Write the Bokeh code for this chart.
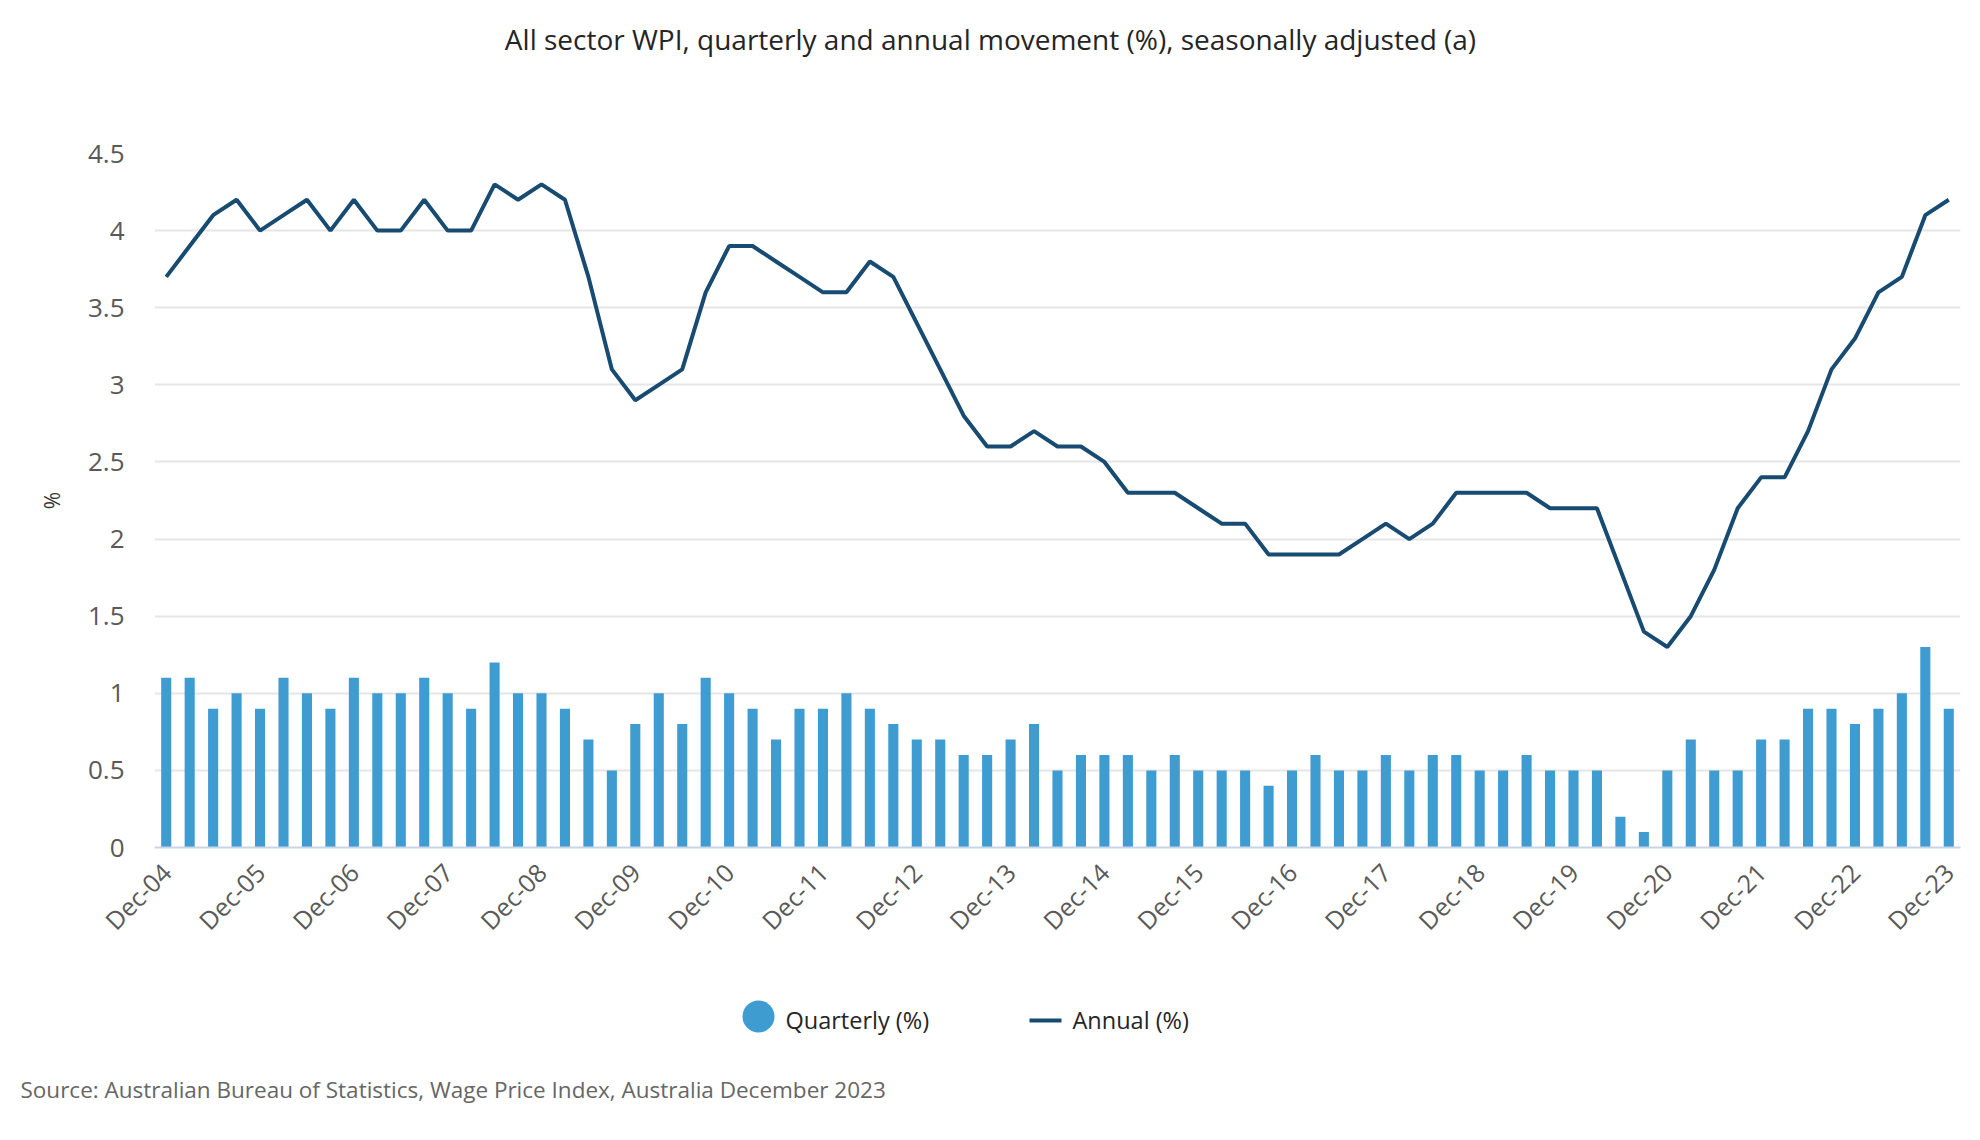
from math import pi
from bokeh.plotting import figure
from bokeh.layouts import column
from bokeh.models import FixedTicker, Range1d, Title
from bokeh.core.properties import value
from bokeh.embed import file_html
from bokeh.resources import INLINE

# ---------------- data ----------------
tick_labels = ["Dec-04", "Dec-05", "Dec-06", "Dec-07", "Dec-08", "Dec-09", "Dec-10",
               "Dec-11", "Dec-12", "Dec-13", "Dec-14", "Dec-15", "Dec-16", "Dec-17",
               "Dec-18", "Dec-19", "Dec-20", "Dec-21", "Dec-22", "Dec-23"]

quarterly = [1.1, 1.1, 0.9, 1.0, 0.9, 1.1, 1.0, 0.9, 1.1, 1.0, 1.0, 1.1, 1.0, 0.9, 1.2, 1.0,
             1.0, 0.9, 0.7, 0.5, 0.8, 1.0, 0.8, 1.1, 1.0, 0.9, 0.7, 0.9, 0.9, 1.0, 0.9, 0.8,
             0.7, 0.7, 0.6, 0.6, 0.7, 0.8, 0.5, 0.6, 0.6, 0.6, 0.5, 0.6, 0.5, 0.5, 0.5, 0.4,
             0.5, 0.6, 0.5, 0.5, 0.6, 0.5, 0.6, 0.6, 0.5, 0.5, 0.6, 0.5, 0.5, 0.5, 0.2, 0.1,
             0.5, 0.7, 0.5, 0.5, 0.7, 0.7, 0.9, 0.9, 0.8, 0.9, 1.0, 1.3, 0.9]

annual = [3.7, 3.9, 4.1, 4.2, 4.0, 4.1, 4.2, 4.0, 4.2, 4.0, 4.0, 4.2, 4.0, 4.0, 4.3, 4.2,
          4.3, 4.2, 3.7, 3.1, 2.9, 3.0, 3.1, 3.6, 3.9, 3.9, 3.8, 3.7, 3.6, 3.6, 3.8, 3.7,
          3.4, 3.1, 2.8, 2.6, 2.6, 2.7, 2.6, 2.6, 2.5, 2.3, 2.3, 2.3, 2.2, 2.1, 2.1, 1.9,
          1.9, 1.9, 1.9, 2.0, 2.1, 2.0, 2.1, 2.3, 2.3, 2.3, 2.3, 2.2, 2.2, 2.2, 1.8, 1.4,
          1.3, 1.5, 1.8, 2.2, 2.4, 2.4, 2.7, 3.1, 3.3, 3.6, 3.7, 4.1, 4.2]

y_ticks = [0, 0.5, 1, 1.5, 2, 2.5, 3, 3.5, 4, 4.5]
y_tick_labels = ["0", "0.5", "1", "1.5", "2", "2.5", "3", "3.5", "4", "4.5"]

series_names = ["Quarterly (%)", "Annual (%)"]
title_text = "All sector WPI, quarterly and annual movement (%), seasonally adjusted (a)"
source_text = "Source: Australian Bureau of Statistics, Wage Price Index, Australia December 2023"

x = list(range(len(quarterly)))
x_ticks = [i * 4 for i in range(len(tick_labels))]

# ---------------- style ----------------
FONT = "Open Sans"
BAR = "#3e9cd1"
LINE = "#174b72"
W = 1972
FRAME_LEFT, FRAME_RIGHT = 154, 1960
HT = 133                      # title strip height
MAIN_TOP, FRAME_H, MAIN_BOTTOM = 20, 694, 130
HB, HB_BORDER = 155, 66       # legend strip height, space for the source note


def strip(height, border_bottom=0):
    fh = height - border_bottom
    f = figure(width=W, height=height, output_backend="svg", toolbar_location=None,
               x_range=Range1d(FRAME_LEFT, FRAME_RIGHT), y_range=Range1d(fh, 0),
               x_axis_type=None, y_axis_type=None,
               min_border_left=FRAME_LEFT, min_border_right=W - FRAME_RIGHT,
               min_border_top=0, min_border_bottom=border_bottom)
    f.outline_line_color = None
    f.background_fill_color = "white"
    f.border_fill_color = "white"
    return f


# ---- title strip ----
top = strip(HT)
top.text(x=[990], y=[38], text=[title_text], text_font=value(FONT),
         text_font_size=value("28px"), text_color="#252525",
         text_align="center", text_baseline="alphabetic")

# ---- main chart ----
p = figure(width=W, height=MAIN_TOP + FRAME_H + MAIN_BOTTOM, output_backend="svg",
           toolbar_location=None,
           x_range=Range1d(-0.5, len(x) - 0.5), y_range=Range1d(0, 4.5),
           min_border_left=FRAME_LEFT, min_border_right=W - FRAME_RIGHT,
           min_border_top=MAIN_TOP, min_border_bottom=MAIN_BOTTOM)
p.outline_line_color = None
p.background_fill_color = "white"
p.border_fill_color = "white"

p.xaxis.ticker = FixedTicker(ticks=x_ticks)
p.xaxis.major_label_overrides = {t: lab for t, lab in zip(x_ticks, tick_labels)}
p.xaxis.major_label_orientation = pi / 4
p.xaxis.major_tick_line_color = None
p.xaxis.minor_tick_line_color = None
p.xaxis.axis_line_color = "#c9d4e8"
p.xaxis.axis_line_width = 2
p.xaxis.major_label_standoff = 14
p.xaxis.major_label_text_font = FONT
p.xaxis.major_label_text_font_size = "25px"
p.xaxis.major_label_text_color = "#595959"

p.yaxis.ticker = FixedTicker(ticks=y_ticks)
p.yaxis.major_label_overrides = {t: lab for t, lab in zip(y_ticks, y_tick_labels)}
p.yaxis.major_tick_line_color = None
p.yaxis.minor_tick_line_color = None
p.yaxis.axis_line_color = None
p.yaxis.major_label_standoff = 24
p.yaxis.major_label_text_font = FONT
p.yaxis.major_label_text_font_size = "26px"
p.yaxis.major_label_text_color = "#595959"
p.yaxis.axis_label = "%"
p.yaxis.axis_label_text_font = FONT
p.yaxis.axis_label_text_font_size = "21px"
p.yaxis.axis_label_text_font_style = "normal"
p.yaxis.axis_label_text_color = "#333333"
p.yaxis.axis_label_standoff = 19

p.xgrid.visible = False
p.ygrid.grid_line_color = "#e6e6e6"
p.ygrid.grid_line_width = 2

p.vbar(x=x, top=quarterly, width=0.43, fill_color=BAR, line_color=None)
p.line(x, annual, line_color=LINE, line_width=4)

# ---- legend strip with source note ----
bot = strip(HB, HB_BORDER)
bot.scatter(x=[758], y=[39], marker="circle", size=32, fill_color=BAR, line_color=None)
bot.segment(x0=[1029], y0=[43], x1=[1061], y1=[43], line_color=LINE, line_width=4)
bot.text(x=[785, 1072], y=[42, 42], text=series_names, text_font=value(FONT),
         text_font_size=value("23.5px"), text_color="#252525",
         text_align="left", text_baseline="alphabetic")
bot.add_layout(Title(text=source_text, align="left", offset=-(FRAME_LEFT - 20), standoff=10,
                     text_font=FONT, text_font_size="22.5px", text_font_style="normal",
                     text_color="#666666"), "below")

layout = column(top, p, bot, spacing=0)
open("out.html", "w").write(file_html(layout, INLINE))
